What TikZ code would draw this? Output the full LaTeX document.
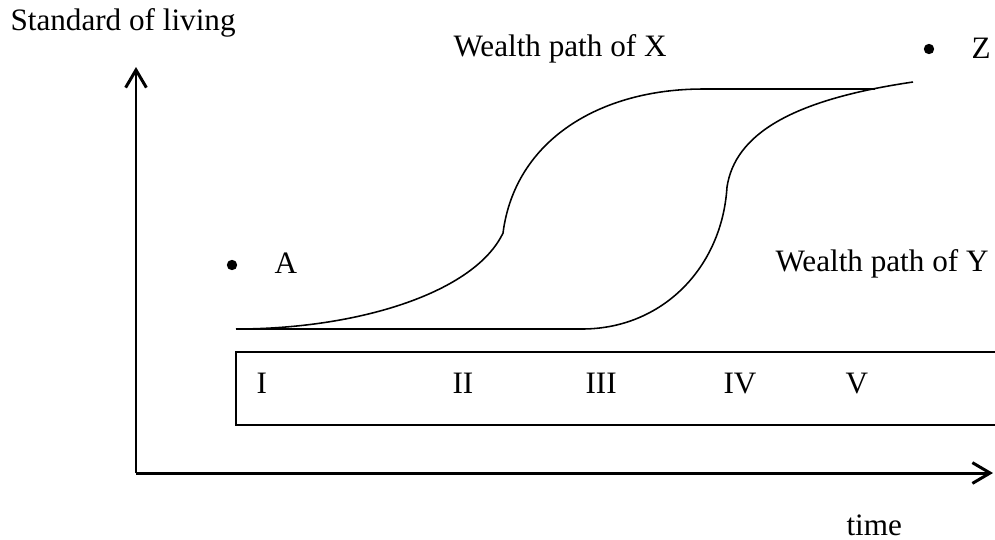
\documentclass[tikz,border=0pt]{standalone}
\usepackage{fontspec}
\setmainfont{Liberation Serif}
\usetikzlibrary{arrows.meta}
\begin{document}
\begin{tikzpicture}[x=0.385pt,y=-0.385pt,
  lbl/.style={anchor=base west,inner sep=0pt,font=\fontsize{12pt}{14pt}\selectfont},
  axis/.style={line width=1.15pt,-{Straight Barb[length=6.8pt,width=8pt,line width=1.15pt]}},
  path/.style={line width=0.6pt},
  boxline/.style={line width=0.75pt},
  dotmark/.style={circle,fill=black,inner sep=0pt,minimum size=4pt}]
\useasboundingbox (0,0) rectangle (995,539);
% axes
\coordinate (O) at (136,473);
\coordinate (ytop) at (136,67);
\coordinate (xend) at (993,473);
\draw[axis] (O) -- (ytop);
\draw[axis] (O) -- (xend);
\node[lbl] (ylab) at (10,30) {Standard of living};
\node[lbl] (xlab) at (846,535) {time};
% phase box
\coordinate (b1) at (995,352);
\coordinate (b2) at (236,352);
\coordinate (b3) at (236,425);
\coordinate (b4) at (995,425);
\draw[boxline] (b1) -- (b2) -- (b3) -- (b4);
\node[lbl] (p1) at (256,393) {I};
\node[lbl] (p2) at (452,393) {II};
\node[lbl] (p3) at (585,393) {III};
\node[lbl] (p4) at (723,393) {IV};
\node[lbl] (p5) at (845,393) {V};
% base line
\coordinate (s0) at (236,329);
\coordinate (s1) at (582,329);
\draw[path] (s0) -- (s1);
% wealth path X
\coordinate (x1) at (503,233);
\coordinate (x2) at (703,89);
\coordinate (x3) at (875,89);
\draw[path] (s0) .. controls (360,329) and (475,292) .. (x1)
  .. controls (515,140) and (600,89) .. (x2) -- (x3);
% wealth path Y
\coordinate (y1) at (727,187);
\coordinate (y2) at (913,82);
\draw[path] (s1) .. controls (662,329) and (722,268) .. (y1)
  .. controls (735,135) and (790,100) .. (y2);
% labels
\node[lbl] (wx) at (453,56) {Wealth path of X};
\node[lbl] (wy) at (775,271) {Wealth path of Y};
\node[dotmark] (dA) at (232,265) {};
\node[lbl] (A) at (274,273) {A};
\node[dotmark] (dZ) at (929,49) {};
\node[lbl] (Z) at (971,58) {Z};
\end{tikzpicture}
\end{document}
